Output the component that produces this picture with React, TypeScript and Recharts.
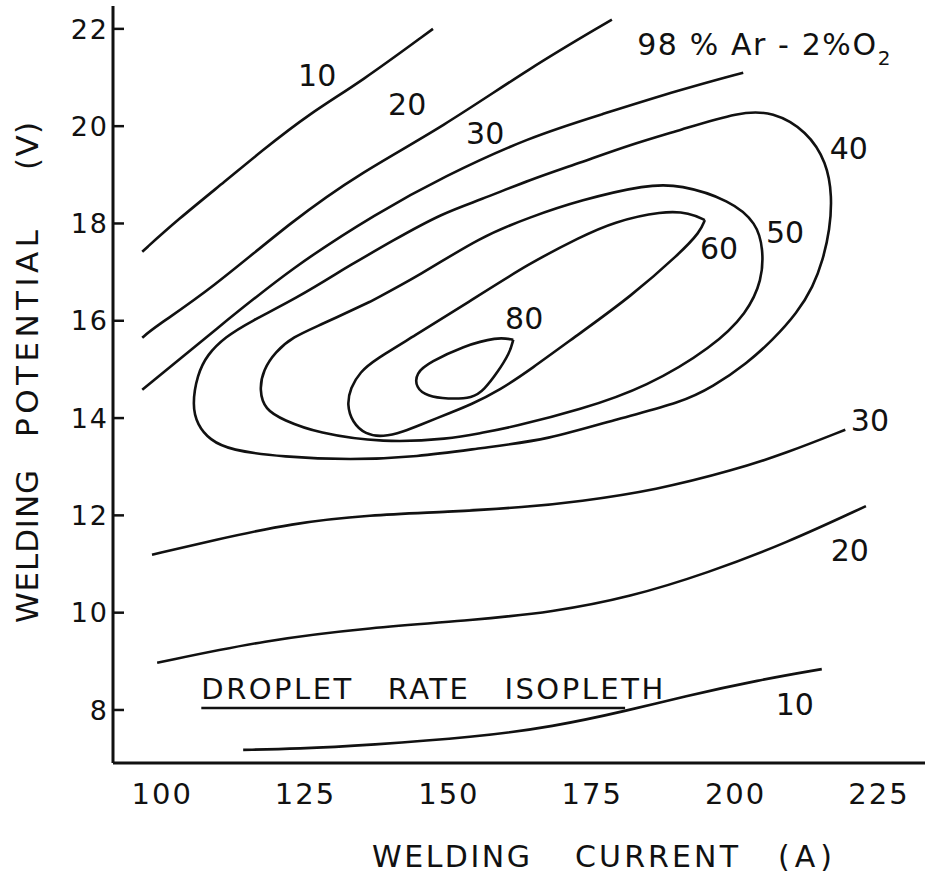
import React from 'react';
import { LineChart, Line, XAxis, YAxis, ReferenceDot, ReferenceLine } from 'recharts';

type P = { a: number; v: number };

const currentTicks = [100, 125, 150, 175, 200, 225];
const potentialTicks = [8, 10, 12, 14, 16, 18, 20, 22];
const currentDomain: [number, number] = [91.6, 233.2];
const potentialDomain: [number, number] = [6.91, 22.47];

// isopleths above the island (open curves)
const upper10: P[] = [
  { a: 96.7, v: 17.42 }, { a: 102.8, v: 18.07 }, { a: 111.5, v: 18.9 }, { a: 117.3, v: 19.47 },
  { a: 126.0, v: 20.27 }, { a: 134.7, v: 20.9 }, { a: 147.4, v: 22.0 },
];
const upper20: P[] = [
  { a: 96.7, v: 15.65 }, { a: 98.6, v: 15.85 }, { a: 108.5, v: 16.63 }, { a: 123.0, v: 18.07 },
  { a: 134.7, v: 19.04 }, { a: 149.2, v: 19.99 }, { a: 164.3, v: 21.2 }, { a: 178.6, v: 22.19 },
];
const upper30: P[] = [
  { a: 96.7, v: 14.58 }, { a: 109.8, v: 15.85 }, { a: 123.0, v: 17.11 }, { a: 137.7, v: 18.22 },
  { a: 149.2, v: 18.96 }, { a: 164.3, v: 19.78 }, { a: 176.5, v: 20.23 }, { a: 190.5, v: 20.75 },
  { a: 201.5, v: 21.1 },
];

// closed isopleths
const loop40: P[] = [
  { a: 131.7, v: 17.05 }, { a: 140.5, v: 17.66 }, { a: 149.2, v: 18.22 }, { a: 155.6, v: 18.48 },
  { a: 164.3, v: 18.9 }, { a: 173.1, v: 19.25 }, { a: 181.8, v: 19.62 }, { a: 190.5, v: 19.92 },
  { a: 200.9, v: 20.3 }, { a: 206.7, v: 20.3 }, { a: 212.6, v: 19.9 }, { a: 216.1, v: 19.25 },
  { a: 217.0, v: 18.55 }, { a: 216.6, v: 17.87 }, { a: 215.4, v: 17.25 }, { a: 213.7, v: 16.7 },
  { a: 210.9, v: 16.16 }, { a: 206.7, v: 15.61 }, { a: 202.2, v: 15.13 }, { a: 196.2, v: 14.64 },
  { a: 190.5, v: 14.31 }, { a: 180.0, v: 14.0 }, { a: 167.3, v: 13.55 }, { a: 156.1, v: 13.39 },
  { a: 144.6, v: 13.2 }, { a: 133.0, v: 13.14 }, { a: 121.3, v: 13.2 }, { a: 112.0, v: 13.34 },
  { a: 108.5, v: 13.55 }, { a: 106.3, v: 13.86 }, { a: 105.4, v: 14.27 }, { a: 106.3, v: 14.89 },
  { a: 108.0, v: 15.3 }, { a: 111.2, v: 15.67 }, { a: 115.5, v: 15.98 }, { a: 123.7, v: 16.47 },
  { a: 131.7, v: 17.05 },
];
const loop50: P[] = [
  { a: 136.4, v: 16.39 }, { a: 145.2, v: 16.94 }, { a: 155.6, v: 17.72 }, { a: 164.3, v: 18.13 },
  { a: 173.1, v: 18.48 }, { a: 184.7, v: 18.8 }, { a: 190.5, v: 18.8 }, { a: 199.2, v: 18.48 },
  { a: 203.9, v: 18.01 }, { a: 205.0, v: 17.46 }, { a: 204.8, v: 16.84 }, { a: 202.2, v: 16.16 },
  { a: 196.2, v: 15.46 }, { a: 184.7, v: 14.64 }, { a: 173.1, v: 14.17 }, { a: 161.4, v: 13.82 },
  { a: 155.6, v: 13.69 }, { a: 150.4, v: 13.57 }, { a: 138.7, v: 13.49 }, { a: 127.2, v: 13.69 },
  { a: 121.3, v: 13.96 }, { a: 118.1, v: 14.17 }, { a: 117.1, v: 14.58 }, { a: 117.8, v: 14.99 },
  { a: 119.9, v: 15.36 }, { a: 123.0, v: 15.67 }, { a: 127.5, v: 15.9 }, { a: 136.4, v: 16.39 },
];
const loop60: P[] = [
  { a: 194.8, v: 18.07 }, { a: 194.0, v: 17.83 }, { a: 190.5, v: 17.39 }, { a: 181.8, v: 16.49 },
  { a: 173.1, v: 15.75 }, { a: 164.3, v: 14.99 }, { a: 159.1, v: 14.58 }, { a: 153.9, v: 14.27 },
  { a: 150.4, v: 14.11 }, { a: 145.2, v: 13.86 }, { a: 142.2, v: 13.72 }, { a: 138.7, v: 13.61 },
  { a: 135.6, v: 13.66 }, { a: 133.3, v: 13.92 }, { a: 132.4, v: 14.27 }, { a: 133.0, v: 14.62 },
  { a: 134.7, v: 14.95 }, { a: 137.3, v: 15.2 }, { a: 143.9, v: 15.67 }, { a: 153.4, v: 16.37 },
  { a: 164.3, v: 17.19 }, { a: 173.1, v: 17.72 }, { a: 178.8, v: 18.03 }, { a: 187.5, v: 18.26 },
  { a: 192.2, v: 18.22 }, { a: 194.8, v: 18.07 },
];
const loop80: P[] = [
  { a: 161.4, v: 15.61 }, { a: 158.6, v: 15.67 }, { a: 152.7, v: 15.48 }, { a: 146.9, v: 15.15 },
  { a: 144.4, v: 14.93 }, { a: 144.4, v: 14.62 }, { a: 146.4, v: 14.45 }, { a: 149.9, v: 14.39 },
  { a: 154.4, v: 14.41 }, { a: 156.3, v: 14.58 }, { a: 158.6, v: 14.93 }, { a: 160.8, v: 15.34 },
  { a: 161.4, v: 15.61 },
];

// isopleths below the island
const lower30: P[] = [
  { a: 98.4, v: 11.19 }, { a: 109.2, v: 11.49 }, { a: 122.8, v: 11.84 }, { a: 136.4, v: 12.01 },
  { a: 150.0, v: 12.07 }, { a: 163.6, v: 12.17 }, { a: 172.7, v: 12.28 }, { a: 186.3, v: 12.52 },
  { a: 199.9, v: 12.93 }, { a: 209.0, v: 13.28 }, { a: 219.3, v: 13.76 },
];
const lower20: P[] = [
  { a: 99.3, v: 8.97 }, { a: 118.3, v: 9.44 }, { a: 136.4, v: 9.69 }, { a: 154.6, v: 9.85 },
  { a: 168.2, v: 10.01 }, { a: 181.8, v: 10.32 }, { a: 195.4, v: 10.82 }, { a: 209.0, v: 11.43 },
  { a: 222.9, v: 12.19 },
];
const lower10: P[] = [
  { a: 114.3, v: 7.18 }, { a: 123.7, v: 7.2 }, { a: 136.4, v: 7.28 }, { a: 154.6, v: 7.44 },
  { a: 168.2, v: 7.65 }, { a: 181.8, v: 8.0 }, { a: 190.8, v: 8.27 }, { a: 204.4, v: 8.62 },
  { a: 215.2, v: 8.84 },
];

const isopleths = [upper10, upper20, upper30, loop40, loop50, loop60, loop80, lower30, lower20, lower10];

const contourLabels = [
  { a: 127.2, v: 21.05, text: '10' },
  { a: 142.9, v: 20.46, text: '20' },
  { a: 156.5, v: 19.86, text: '30' },
  { a: 219.9, v: 19.55, text: '40' },
  { a: 208.8, v: 17.83, text: '50' },
  { a: 197.3, v: 17.5, text: '60' },
  { a: 163.3, v: 16.06, text: '80' },
  { a: 223.6, v: 13.96, text: '30' },
  { a: 220.1, v: 11.29, text: '20' },
  { a: 210.5, v: 8.12, text: '10' },
];

const gasLabel = { a: 183.0, v: 21.69, text: '98 % Ar - 2%O', sub: '2' };
const legendTitle = { a: 107.0, v: 8.43, words: ['DROPLET', 'RATE', 'ISOPLETH'] };
const legendRule = { a1: 107.0, a2: 180.9, v: 8.04 };

const xTitleWords = ['WELDING', 'CURRENT', '(A)'];
const yTitleWords = ['WELDING', 'POTENTIAL', '(V)'];

const INK = '#111';
const FONT = "'DejaVu Sans', sans-serif";

function XTick(props: any) {
  const { x, y, payload } = props;
  return (
    <text x={x + 1} y={y} dy="0.71em" textAnchor="middle" fontSize={29} fontFamily={FONT} fill={INK} letterSpacing={2}>
      {payload.value}
    </text>
  );
}

function YTick(props: any) {
  const { x, y, payload } = props;
  return (
    <g>
      <text x={x + 1} y={y} dy="0.36em" textAnchor="end" fontSize={27} fontFamily={FONT} fill={INK} letterSpacing={2}>
        {payload.value}
      </text>
      <line x1={x + 5} x2={x + 16} y1={y} y2={y} stroke={INK} strokeWidth={2.5} />
    </g>
  );
}

function XTitle(props: any) {
  const vb = props.viewBox;
  const centers = [338, 543.5, 692];
  const lengths = [158, 163, 54];
  return (
    <g>
      {xTitleWords.map((w, i) => (
        <text key={w} x={vb.x + centers[i]} y={vb.y + 104} textAnchor="middle" fontSize={30} fontFamily={FONT} fill={INK}
          textLength={lengths[i]} lengthAdjust="spacing">{w}</text>
      ))}
    </g>
  );
}

function YTitle(props: any) {
  const vb = props.viewBox;
  const centers = [540.5, 327.5, 140];
  const lengths = [153, 207, 48];
  const cx = vb.x + 14;
  return (
    <g>
      {yTitleWords.map((w, i) => (
        <text key={w} transform={`translate(${cx},${vb.y + centers[i]}) rotate(-90)`} x={0} y={0} dy="0.36em"
          textAnchor="middle" fontSize={31} fontFamily={FONT} fill={INK} textLength={lengths[i]} lengthAdjust="spacing">{w}</text>
      ))}
    </g>
  );
}

export default function App() {
  return (
    <div style={{ position: 'absolute', left: 0, top: 0, background: '#fff' }}>
      <LineChart width={925} height={877} margin={{ top: 6, right: 0, bottom: 4, left: 13 }}>
        <XAxis
          type="number" dataKey="a" domain={currentDomain} allowDataOverflow ticks={currentTicks} interval={0}
          height={110} axisLine={{ stroke: INK, strokeWidth: 3 }} tickLine={false} tickSize={0} tickMargin={20}
          tick={<XTick />} label={<XTitle />}
        />
        <XAxis
          xAxisId="top" orientation="top" type="number" dataKey="a" domain={currentDomain} allowDataOverflow
          height={0} axisLine={{ stroke: INK, strokeWidth: 3 }} tick={false} tickLine={false}
        />
        <YAxis
          type="number" dataKey="v" domain={potentialDomain} allowDataOverflow ticks={potentialTicks} interval={0}
          width={100} axisLine={{ stroke: INK, strokeWidth: 3 }} tickLine={false} tickSize={0} tickMargin={5}
          tick={<YTick />} label={<YTitle />}
        />
        {isopleths.map((d, i) => (
          <Line key={i} data={d} dataKey="v" type="basis" stroke={INK} strokeWidth={2.6} dot={false}
            activeDot={false} isAnimationActive={false} />
        ))}
        <ReferenceLine
          segment={[{ x: legendRule.a1, y: legendRule.v }, { x: legendRule.a2, y: legendRule.v }]}
          stroke={INK} strokeWidth={2.4}
        />
        {contourLabels.map((l, i) => (
          <ReferenceDot key={i} x={l.a} y={l.v} r={0} fill="none" stroke="none"
            label={{
              content: (p: any) => (
                <text x={p.viewBox.x} y={p.viewBox.y} dy="0.36em" textAnchor="middle" fontSize={30} fontFamily={FONT} fill={INK}>
                  {l.text}
                </text>
              ),
            }}
          />
        ))}
        <ReferenceDot x={gasLabel.a} y={gasLabel.v} r={0} fill="none" stroke="none"
          label={{
            content: (p: any) => (
              <text x={p.viewBox.x} y={p.viewBox.y} dy="0.36em" textAnchor="start" fontSize={30} fontFamily={FONT} fill={INK} letterSpacing={1.6}>
                {gasLabel.text}
                <tspan fontSize={20} dy={10}>{gasLabel.sub}</tspan>
              </text>
            ),
          }}
        />
        <ReferenceDot x={legendTitle.a} y={legendTitle.v} r={0} fill="none" stroke="none"
          label={{
            content: (p: any) => (
              <text x={p.viewBox.x} y={p.viewBox.y} dy="0.36em" textAnchor="start" fontSize={29} fontFamily={FONT} fill={INK} letterSpacing={2.5}>
                <tspan>{legendTitle.words[0]}</tspan>
                <tspan dx={34}>{legendTitle.words[1]}</tspan>
                <tspan dx={34}>{legendTitle.words[2]}</tspan>
              </text>
            ),
          }}
        />
      </LineChart>
    </div>
  );
}
